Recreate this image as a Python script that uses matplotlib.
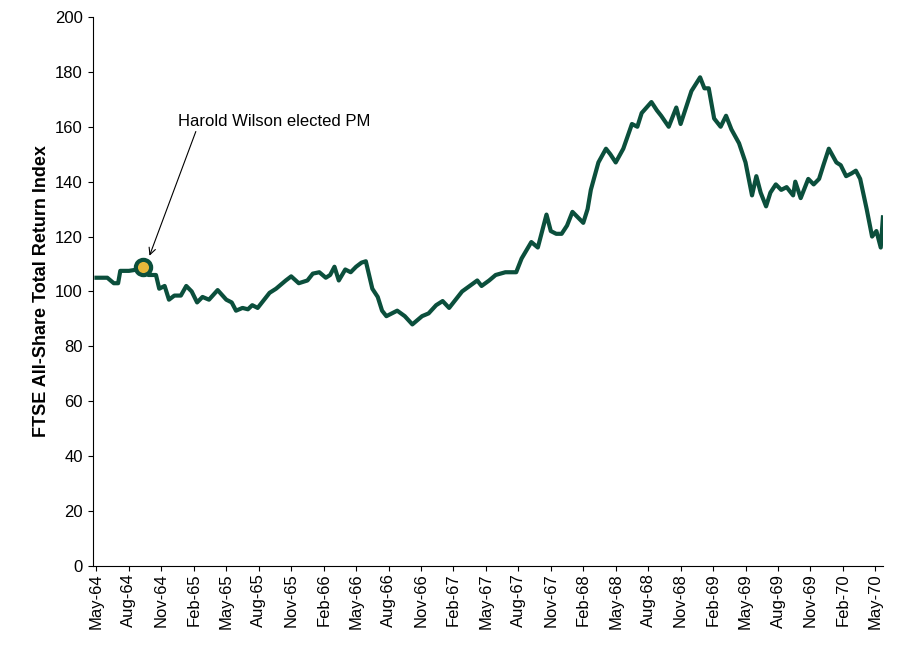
import matplotlib
matplotlib.use("Agg")
from matplotlib import pyplot as plt

plt.rcParams['font.family'] = ['Liberation Sans', 'DejaVu Sans']

# Month index from May-64 (0) and FTSE All-Share total return index value.
months = [0, 1, 1.6, 2.0, 2.2, 3.0, 3.8, 4.3, 4.8, 5.5, 5.8, 6.3, 6.7, 7.2, 7.8, 8.3, 8.8, 9.3,
          9.8, 10.4, 11.2, 12.0, 12.5, 12.9, 13.5, 14.0, 14.4, 14.9, 15.5, 16.0, 16.6, 17.5, 18.0,
          18.7, 19.5, 20.0, 20.6, 21.2, 21.6, 22.0, 22.4, 23.0, 23.5, 24.0, 24.5, 24.9, 25.5, 26.0,
          26.4, 26.8, 27.3, 27.8, 28.5, 29.2, 30.1, 30.7, 31.4, 32.0, 32.6, 33.2, 33.8, 34.5, 35.2,
          35.6, 36.3, 36.9, 37.8, 38.8, 39.3, 40.2, 40.8, 41.6, 42.0, 42.5, 43.0, 43.5, 44.0, 44.5,
          45.0, 45.4, 45.7, 46.4, 47.1, 47.5, 48.0, 48.7, 49.5, 50.0, 50.4, 51.3, 51.8, 52.2, 52.9,
          53.6, 54.0, 54.5, 55.0, 55.8, 56.2, 56.6, 57.1, 57.7, 58.2, 58.7, 59.4, 60.0, 60.6, 61.0,
          61.4, 61.9, 62.3, 62.8, 63.3, 63.8, 64.4, 64.6, 65.1, 65.8, 66.3, 66.8, 67.2, 67.7, 68.4,
          68.8, 69.3, 69.8, 70.2, 70.6, 71.2, 71.7, 72.1, 72.5, 72.7]
values = [105, 105, 103, 103, 107.5, 107.5, 108, 109, 106, 106, 101, 102, 97, 98.5, 98.5, 102, 100, 96,
          98, 97, 100.5, 97, 96, 93, 94, 93.5, 95, 94, 97, 99.5, 101, 104, 105.5,
          103, 104, 106.5, 107, 105, 106, 109, 104, 108, 107, 109, 110.5, 111, 101, 98,
          93, 91, 92, 93, 91, 88, 91, 92, 95, 96.5, 94, 97, 100, 102, 104,
          102, 104, 106, 107, 107, 112, 118, 116, 128, 122, 121, 121, 124, 129, 127,
          125, 130, 137, 147, 152, 150, 147, 152, 161, 160, 165, 169, 166, 164, 160,
          167, 161, 167, 173, 178, 174, 174, 163, 160, 164, 159, 154, 147, 135, 142,
          136, 131, 136, 139, 137, 138, 135, 140, 134, 141, 139, 141, 146, 152, 147,
          146, 142, 143, 144, 141, 130, 120, 122, 116, 127]

tick_labels = ['May-64', 'Aug-64', 'Nov-64', 'Feb-65', 'May-65', 'Aug-65', 'Nov-65', 'Feb-66',
               'May-66', 'Aug-66', 'Nov-66', 'Feb-67', 'May-67', 'Aug-67', 'Nov-67', 'Feb-68',
               'May-68', 'Aug-68', 'Nov-68', 'Feb-69', 'May-69', 'Aug-69', 'Nov-69', 'Feb-70',
               'May-70']

event_month = 4.3
event_value = 109

green = '#0b4f3c'

fig = plt.figure(figsize=(9, 6.54), dpi=100)
ax = fig.add_axes([0.103, 0.1346, 0.878, 0.8395])

ax.plot(months, values, color=green, linewidth=3, solid_joinstyle='round', zorder=2)
ax.plot(event_month, event_value, 'o', markersize=11, markerfacecolor='#e8b83a',
        markeredgecolor=green, markeredgewidth=3, zorder=3)

ax.annotate('Harold Wilson elected PM', xy=(4.9, 113), xytext=(7.5, 162),
            fontsize=12, ha='left', va='center',
            arrowprops=dict(arrowstyle='->', color='black', lw=0.8, shrinkA=0, shrinkB=0,
                            relpos=(0.1, 0)))

ax.set_xlim(-0.35, 72.7)
ax.set_ylim(0, 200)
ax.set_yticks(range(0, 201, 20))
ax.set_xticks([3 * i for i in range(len(tick_labels))])
ax.set_xticklabels(tick_labels, rotation=90, fontsize=12)
ax.tick_params(axis='y', labelsize=12)
ax.tick_params(axis='x', pad=2)
ax.set_ylabel('FTSE All-Share Total Return Index', fontsize=13, fontweight='bold')

for side in ['top', 'right']:
    ax.spines[side].set_visible(False)

fig.savefig('out.png')
